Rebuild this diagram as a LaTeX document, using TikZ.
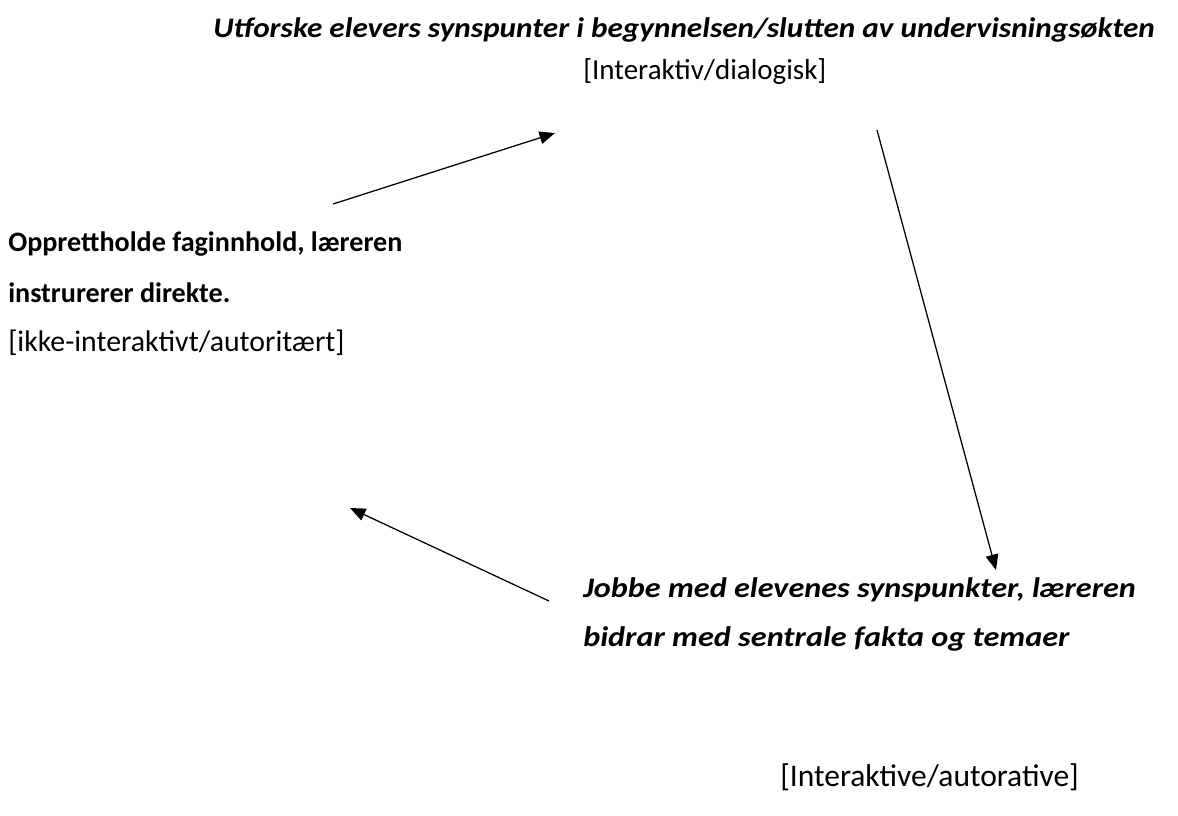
\documentclass[tikz,border=0pt]{standalone}
\usepackage{fontspec}
\setmainfont{Carlito}
\usetikzlibrary{arrows.meta}
\newcommand{\wide}[2][1.12]{\scalebox{#1}[1]{#2}}

\begin{document}
\begin{tikzpicture}[x=0.025cm,y=-0.025cm,
	txt/.style={anchor=west,inner sep=0pt,font=\fontsize{20.6}{24}\selectfont},
	bftxt/.style={txt,font=\fontsize{20}{24}\selectfont\bfseries},
	ittxt/.style={txt,font=\fontsize{20.1}{24}\selectfont\bfseries\itshape},
	pil/.style={-{Triangle[length=11pt,width=9pt]},line width=0.9pt}]

% frame %{{{2

	\useasboundingbox (0,0) rectangle (1178,816);

% texts %{{{2

	\node[ittxt] (top) at (213,30) {\wide[1.105]{Utforske elevers synspunter i begynnelsen/slutten av undervisningsøkten}};
	\node[txt] (topsub) at (583,72) {[Interaktiv/dialogisk]};

	\node[bftxt] (left1) at (8,244) {Opprettholde faginnhold, læreren};
	\node[bftxt] (left2) at (8,293) {instrurerer direkte.};
	\node[txt,font=\fontsize{21.2}{24}\selectfont] (leftsub) at (8,343) {[ikke-interaktivt/autoritært]};

	\node[ittxt] (right1) at (583,590) {\wide[1.14]{Jobbe med elevenes synspunkter, læreren}};
	\node[ittxt] (right2) at (583,639) {\wide[1.14]{bidrar med sentrale fakta og temaer}};
	\node[txt,font=\fontsize{22.4}{24}\selectfont] (rightsub) at (780,777) {[Interaktive/autorative]};

% arrow ends %{{{2

	\coordinate (A1) at (333,204);
	\coordinate (A2) at (555,133);
	\coordinate (B1) at (877,130);
	\coordinate (B2) at (996,570);
	\coordinate (C1) at (549,601);
	\coordinate (C2) at (350,508);

% arrows %{{{2

	\draw[pil] (A1) -- (A2);
	\draw[pil] (B1) -- (B2);
	\draw[pil] (C1) -- (C2);

% closing %{{{2

\end{tikzpicture}
\end{document}
